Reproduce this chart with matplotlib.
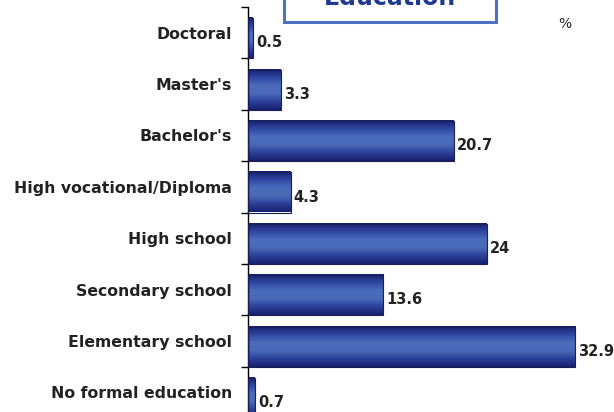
import numpy as np
import matplotlib.pyplot as plt
from matplotlib.patches import Rectangle
from matplotlib.colors import LinearSegmentedColormap

levels = ["Doctoral", "Master's", "Bachelor's", "High vocational/Diploma",
          "High school", "Secondary school", "Elementary school",
          "No formal education"]
pct = [0.5, 3.3, 20.7, 4.3, 24, 13.6, 32.9, 0.7]
pct_text = ["0.5", "3.3", "20.7", "4.3", "24", "13.6", "32.9", "0.7"]

W, H = 614, 412
fig = plt.figure(figsize=(W / 100, H / 100), dpi=100)
# axes top at the first boundary tick, bottom runs off the canvas
ax = fig.add_axes([248 / W, 1 - 418 / H, (596 - 248) / W, 411 / H])

n = len(levels)

# navy -> lighter blue -> navy shading across each bar
shade = LinearSegmentedColormap.from_list(
    "barshade", ["#17206e", "#2f46a0", "#4b6cbb", "#4a6ab8", "#2c419a", "#17206e"])
grad = np.linspace(0, 1, 64).reshape(-1, 1)

bh = 0.78
for i, v in enumerate(pct):
    top = i + 0.5 - bh
    bot = i + 0.5
    ax.imshow(grad, cmap=shade, aspect="auto", extent=(0, v, bot, top),
              interpolation="bilinear", zorder=2)
    ax.add_patch(Rectangle((0, top), v, bh, fill=False, edgecolor="#1a1f55",
                           lw=0.8, zorder=3))
    ax.text(v + 0.3, i + 0.2, pct_text[i], va="center", ha="left",
            fontsize=10.5, fontweight="bold", color="#222222")

ax.set_xlim(0, 35)
ax.set_ylim(n - 0.5, -0.5)

ax.set_yticks(range(n))
ax.set_yticklabels(levels, fontsize=11.3, fontweight="bold", color="#222222")
ax.tick_params(axis="y", which="major", length=0, pad=11.5)
ax.set_yticks(np.arange(-0.5, n, 1), minor=True)
ax.tick_params(axis="y", which="minor", length=5, width=1, direction="out")
ax.set_xticks([])
for s in ["top", "right", "bottom"]:
    ax.spines[s].set_visible(False)
ax.spines["left"].set_linewidth(1)

# title box, mostly above the visible area
fig.patches.append(Rectangle((284 / W, 1 - 22 / H), 212 / W, 0.2,
                             transform=fig.transFigure, facecolor="white",
                             edgecolor="#4a72c0", lw=2.2))
fig.text(390 / W, 1 - 5 / H, "Education", ha="center", va="baseline",
         fontsize=17, fontweight="bold", color="#1f3a93")
fig.text(565 / W, 1 - 24 / H, "%", ha="center", va="center", fontsize=10,
         color="#222222")

fig.savefig("out.png", dpi=100)
